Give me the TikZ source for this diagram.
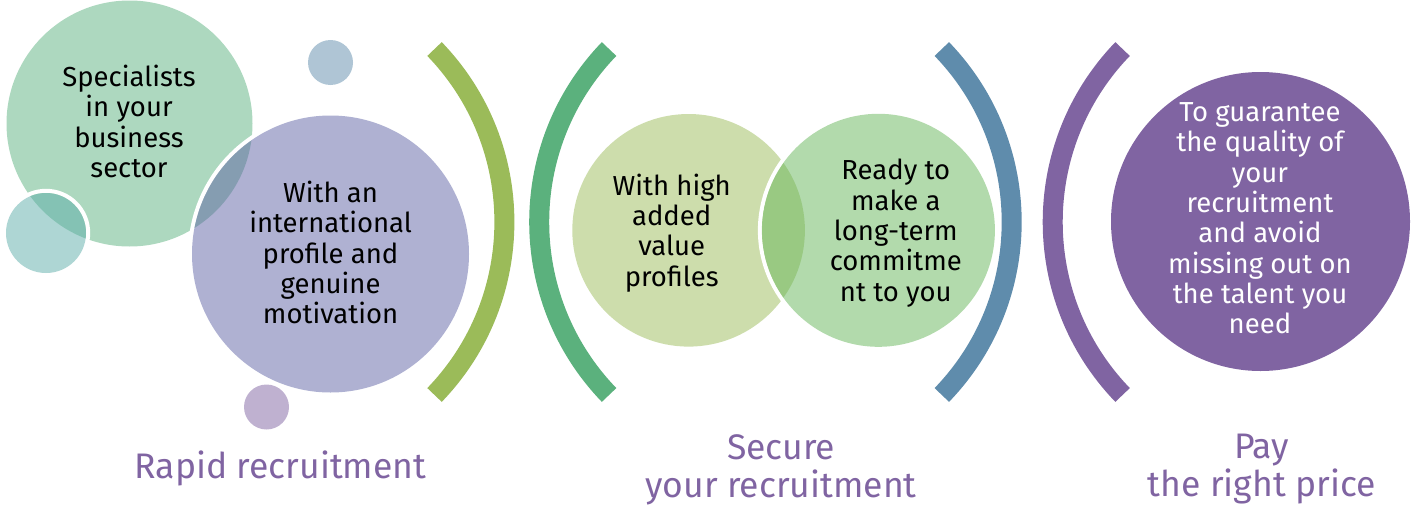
\documentclass[tikz,border=0pt]{standalone}
\usepackage{fontspec}
\setmainfont{Fira Sans}
\definecolor{cone}{HTML}{5BB17F}
\definecolor{ctwo}{HTML}{5F63A5}
\definecolor{cteal}{HTML}{5DADA9}
\definecolor{arcolive}{HTML}{9BBB59}
\definecolor{arcgreen}{HTML}{5BB17D}
\definecolor{arcblue}{HTML}{5F8CAC}
\definecolor{cpurple}{HTML}{8064A2}
\definecolor{cfour}{HTML}{65B559}
\tikzset{
  bodytext/.style={inner sep=0pt, align=center, anchor=north, text=black,
    font=\fontsize{27.5}{30.3}\selectfont},
  labeltext/.style={inner sep=0pt, align=center, anchor=north, text=cpurple,
    font=\fontsize{35.5}{38.4}\selectfont},
  bracket/.style={line width=20pt},
  ring/.style={draw=white, line width=4pt},
  soft/.style={fill opacity=0.5}
}
\begin{document}
\begin{tikzpicture}[x=1pt,y=-1pt]
\useasboundingbox (0,0) rectangle (1411,506);
% left cluster
\fill[cone,soft] (129.5,123.5) circle[radius=123];
\draw[ring] (46,233) circle[radius=42.2];
\fill[cteal,soft] (46,233) circle[radius=40];
\draw[ring] (330.5,254) circle[radius=140.5];
\fill[ctwo,soft] (330.5,254) circle[radius=138.5];
\fill[arcblue,soft] (330.5,62.5) circle[radius=22.5];
\fill[cpurple,soft] (266.5,407) circle[radius=22.5];
% brackets
\draw[bracket,arcolive] (255.4,222) ++(-44:249) arc[start angle=-44, end angle=44, radius=249];
\draw[bracket,arcgreen] (788.2,222) ++(136:249) arc[start angle=136, end angle=224, radius=249];
\draw[bracket,arcblue] (762.7,222) ++(-44:249) arc[start angle=-44, end angle=44, radius=249];
\draw[bracket,cpurple] (1301.7,222) ++(136:249) arc[start angle=136, end angle=224, radius=249];
% middle pair
\fill[arcolive,soft] (688.6,230.3) circle[radius=116.3];
\draw[ring] (878.4,230.3) circle[radius=118.5];
\fill[cfour,soft] (878.4,230.3) circle[radius=116.5];
% right circle
\fill[cpurple] (1260.5,221.5) circle[radius=149.5];
% texts
\node[bodytext] (t1) at (129,65) {Specialists\\in your\\business\\sector};
\node[bodytext] (t2) at (330.6,181) {With an\\international\\profile and\\genuine\\motivation};
\node[bodytext] (t3) at (671.7,173.5) {With high\\added\\value\\profiles};
\node[bodytext] (t4) at (895.8,159) {Ready to\\make a\\long-term\\commitme\\nt to you};
\node[bodytext,text=white] (t5) at (1260,102.5) {To guarantee\\the quality of\\your\\recruitment\\and avoid\\missing out on\\the talent you\\need};
\node[labeltext] (l1) at (280.5,451) {Rapid recruitment};
\node[labeltext] (l2) at (781,434.5) {Secure\\your recruitment};
\node[labeltext] (l3) at (1261.7,433.7) {Pay\\the right price};
\end{tikzpicture}
\end{document}
